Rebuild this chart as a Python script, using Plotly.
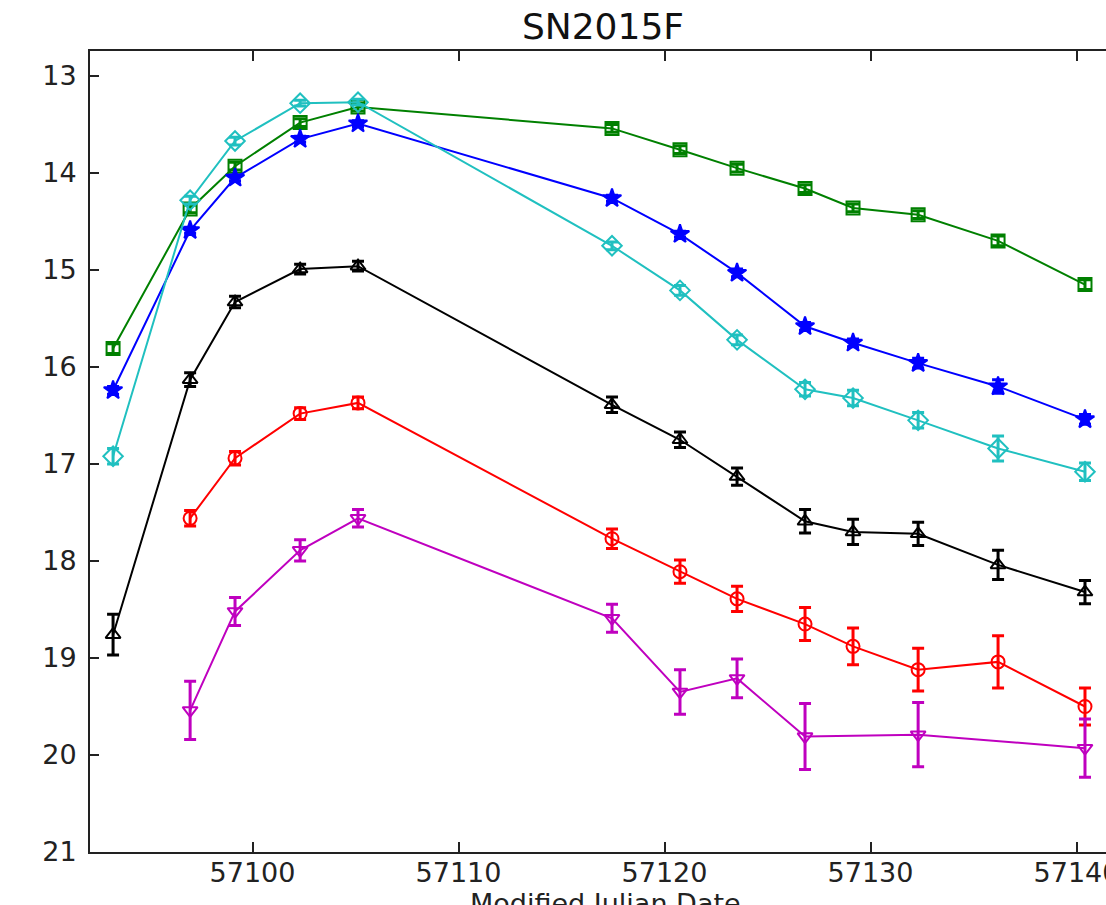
import plotly.graph_objects as go

# Observation epochs (MJD)
mjd = [57093.23, 57096.97, 57099.15, 57102.31, 57105.12, 57117.45, 57120.75,
       57123.52, 57126.82, 57129.15, 57132.31, 57136.19, 57140.41]

# Photometry per band (magnitudes) with 1-sigma errors
green_mag = [15.81, 14.37, 13.93, 13.48, 13.32, 13.54, 13.76, 13.95, 14.16, 14.36, 14.43, 14.70, 15.15]
green_err = [0.05, 0.04, 0.04, 0.04, 0.04, 0.04, 0.04, 0.04, 0.04, 0.04, 0.04, 0.05, 0.05]

blue_mag = [16.24, 14.59, 14.05, 13.65, 13.49, 14.26, 14.63, 15.03, 15.58, 15.75, 15.96, 16.20, 16.54]
blue_err = [0.04, 0.03, 0.03, 0.03, 0.03, 0.03, 0.03, 0.04, 0.04, 0.04, 0.05, 0.07, 0.05]

cyan_mag = [16.92, 14.28, 13.67, 13.28, 13.27, 14.75, 15.21, 15.72, 16.23, 16.32, 16.55, 16.84, 17.08]
cyan_err = [0.08, 0.04, 0.04, 0.03, 0.03, 0.04, 0.05, 0.05, 0.07, 0.08, 0.08, 0.13, 0.09]

black_mag = [18.76, 16.13, 15.33, 14.99, 14.96, 16.39, 16.75, 17.13, 17.59, 17.70, 17.72, 18.04, 18.32]
black_err = [0.21, 0.07, 0.06, 0.05, 0.05, 0.08, 0.08, 0.09, 0.12, 0.13, 0.12, 0.15, 0.12]

red_mjd = mjd[1:]
red_mag = [17.56, 16.94, 16.48, 16.37, 17.77, 18.11, 18.39, 18.65, 18.88, 19.12, 19.04, 19.50]
red_err = [0.08, 0.07, 0.06, 0.06, 0.10, 0.12, 0.13, 0.17, 0.19, 0.22, 0.27, 0.19]

mag_mjd = [mjd[i] for i in (1, 2, 3, 4, 5, 6, 7, 8, 10, 12)]
magenta_mag = [19.54, 18.52, 17.89, 17.56, 18.59, 19.35, 19.21, 19.81, 19.79, 19.93]
magenta_err = [0.30, 0.145, 0.11, 0.09, 0.145, 0.23, 0.20, 0.34, 0.33, 0.30]

x_ticks = [57100, 57110, 57120, 57130, 57140]
y_ticks = [13, 14, 15, 16, 17, 18, 19, 20, 21]

series = [
    (mjd, green_mag, green_err, "#008000", "square-open", 13),
    (mjd, blue_mag, blue_err, "#0000ff", "star", 14),
    (mjd, cyan_mag, cyan_err, "#20c0c0", "diamond-open", 15),
    (mjd, black_mag, black_err, "#000000", "triangle-up-open", 13),
    (red_mjd, red_mag, red_err, "#ff0000", "circle-open", 13),
    (mag_mjd, magenta_mag, magenta_err, "#bf00bf", "triangle-down-open", 13),
]

fig = go.Figure()
for xs, ys, es, col, sym, sz in series:
    fig.add_trace(go.Scatter(
        x=xs, y=ys, mode="lines+markers",
        line=dict(color=col, width=2),
        marker=dict(symbol=sym, size=sz, color=col, line=dict(color=col, width=2)),
        error_y=dict(type="data", array=es, visible=True, color=col,
                     thickness=3, width=6),
        showlegend=False,
    ))

font_family = "DejaVu Sans, sans-serif"

fig.update_layout(
    width=1106, height=905,
    margin=dict(l=90, r=0, t=51, b=53),
    paper_bgcolor="white", plot_bgcolor="white",
    font=dict(family=font_family, size=27, color="#222222"),
    title=dict(text="SN2015F", x=603 / 1106, xref="container", xanchor="center",
               y=1 - 39 / 905, yref="container", yanchor="bottom",
               font=dict(size=36, color="#111111", family=font_family)),
    xaxis=dict(
        range=[57092.11, 57141.43], tickvals=x_ticks,
        ticktext=[str(v) for v in x_ticks],
        ticks="inside", ticklen=10, tickwidth=1.5, tickcolor="#222222",
        showline=True, linecolor="#222222", linewidth=2, mirror="ticks",
        showgrid=False, zeroline=False, ticklabelstandoff=-4,
        ticklabeloverflow="allow", automargin=False,
    ),
    yaxis=dict(
        range=[21, 12.742], tickvals=y_ticks,
        ticktext=[str(v) for v in y_ticks],
        ticks="inside", ticklen=9, tickwidth=1.5, tickcolor="#222222",
        showline=True, linecolor="#222222", linewidth=2, mirror=False,
        showgrid=False, zeroline=False, ticklabelstandoff=6, automargin=False,
    ),
)

# x-axis label placed below the tick labels
fig.add_annotation(
    text="Modified Julian Date", xref="paper", yref="paper",
    x=(605 - 90) / 1016, y=-(886 - 852) / 801, xanchor="center", yanchor="top",
    showarrow=False, font=dict(size=27, color="#222222", family=font_family),
)

fig.write_html("out.html")
